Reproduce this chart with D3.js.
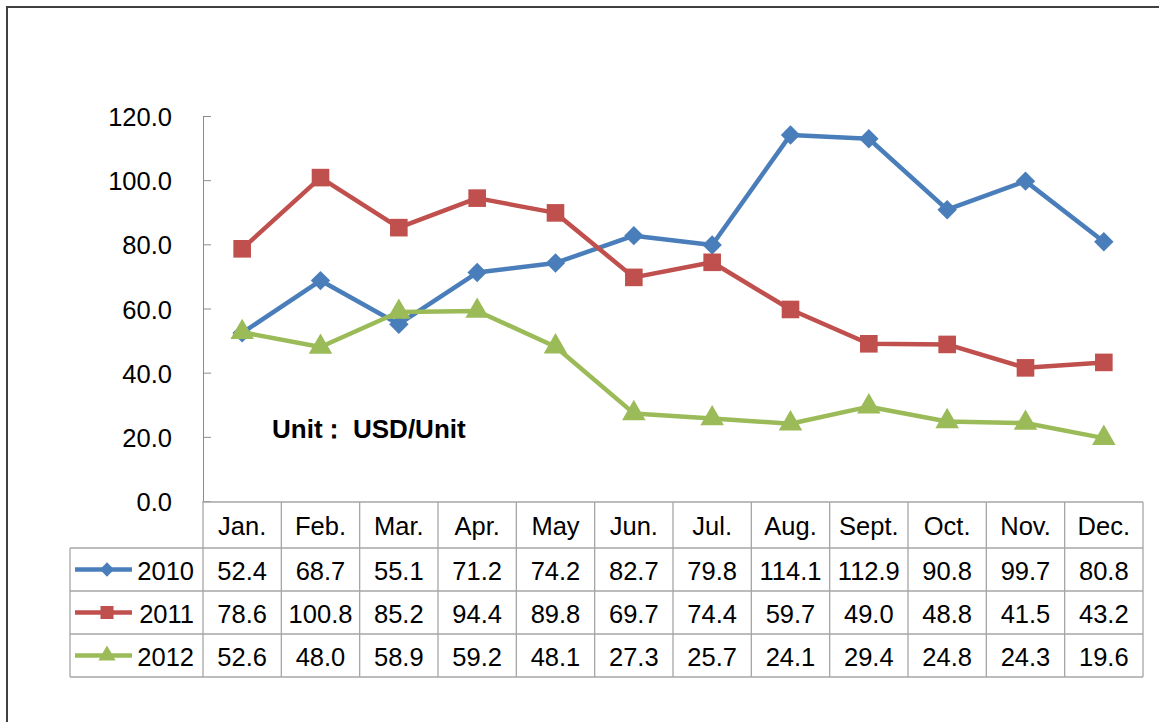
<!DOCTYPE html>
<html lang="en">
    <head>
        <meta charset="UTF-8" />
        <title>USD/Unit 2010-2012</title>
        <script src="https://cdn.jsdelivr.net/npm/d3@7"></script>
        <style>
            body { margin: 0; background: #fff; }
            text { font-family: "Liberation Sans", Arial, sans-serif; fill: #000; }
        </style>
    </head>
    <body>
        <div id="chart"></div>
        <script>
            const months = ["Jan.", "Feb.", "Mar.", "Apr.", "May", "Jun.", "Jul.", "Aug.", "Sept.", "Oct.", "Nov.", "Dec."];
            const years = ["2010", "2011", "2012"];
            const v2010 = [52.4, 68.7, 55.1, 71.2, 74.2, 82.7, 79.8, 114.1, 112.9, 90.8, 99.7, 80.8];
            const v2011 = [78.6, 100.8, 85.2, 94.4, 89.8, 69.7, 74.4, 59.7, 49.0, 48.8, 41.5, 43.2];
            const v2012 = [52.6, 48.0, 58.9, 59.2, 48.1, 27.3, 25.7, 24.1, 29.4, 24.8, 24.3, 19.6];
            const yTicks = [0, 20, 40, 60, 80, 100, 120];

            const series = [
                {name: years[0], values: v2010, color: "#4A7EBB", shape: d3.symbolDiamond2},
                {name: years[1], values: v2011, color: "#C0504D", shape: d3.symbolSquare},
                {name: years[2], values: v2012, color: "#9BBB59", shape: d3.symbolTriangle}
            ];

            const w = 1159, h = 722;
            const plotLeft = 203, plotRight = 1143, plotTop = 116, plotBottom = 501;
            const legendLeft = 70;
            const headerH = 46, rowH = 43;
            const fs = "25.5px";

            const svg = d3.select("#chart").append("svg")
                .attr("width", w)
                .attr("height", h);

            // outer frame
            svg.append("rect")
                .attr("x", 7).attr("y", 7)
                .attr("width", w + 20).attr("height", h + 20)
                .attr("fill", "none")
                .attr("stroke", "#404040")
                .attr("stroke-width", 2);

            const xScale = d3.scaleBand(months, [plotLeft, plotRight]);
            const yScale = d3.scaleLinear([0, 120], [plotBottom, plotTop]);
            const cx = i => xScale(months[i]) + xScale.bandwidth() / 2;

            // y axis, ticks pointing inside
            const yAxis = svg.append("g")
                .attr("transform", "translate(" + plotLeft + ",0)")
                .call(d3.axisRight(yScale).tickValues(yTicks).tickSize(8).tickSizeOuter(0).tickFormat(""));
            yAxis.selectAll("line, path").attr("stroke", "#8c8c8c");

            svg.selectAll(".ylab")
                .data(yTicks)
                .enter()
                .append("text")
                .attr("class", "ylab")
                .attr("x", 172)
                .attr("y", d => yScale(d) + 10)
                .attr("text-anchor", "end")
                .style("font-size", fs)
                .text(d => d3.format(".1f")(d));

            // unit label
            const unit = svg.append("text")
                .attr("y", 438)
                .style("font-size", "26px")
                .style("font-weight", "bold");
            unit.append("tspan").attr("x", 272).text("Unit");
            unit.append("tspan").attr("x", 321).text("：");
            unit.append("tspan").attr("x", 353).text("USD/Unit");

            // lines and markers
            const line = d3.line()
                .x((d, i) => cx(i))
                .y(d => yScale(d));

            series.forEach(s => {
                svg.append("path")
                    .attr("d", line(s.values))
                    .attr("fill", "none")
                    .attr("stroke", s.color)
                    .attr("stroke-width", 4.5)
                    .attr("stroke-linejoin", "round");

                svg.selectAll(".m" + s.name)
                    .data(s.values)
                    .enter()
                    .append("path")
                    .attr("d", d3.symbol(s.shape, s.shape == d3.symbolSquare ? 310 : 240))
                    .attr("transform", (d, i) => "translate(" + cx(i) + "," + yScale(d) + ")")
                    .attr("fill", s.color);
            });

            // data table
            const grid = "#a6a6a6";
            const tableTop = plotBottom + 1;
            const rowTop = i => tableTop + headerH + i * rowH;
            const tableBottom = rowTop(3);

            const table = svg.append("g").attr("stroke", grid).attr("stroke-width", 1.3);
            table.append("line").attr("x1", plotLeft).attr("x2", plotRight).attr("y1", tableTop).attr("y2", tableTop);
            for (let i = 0; i <= 3; i++) {
                table.append("line").attr("x1", legendLeft).attr("x2", plotRight)
                    .attr("y1", rowTop(i)).attr("y2", rowTop(i));
            }
            table.append("line").attr("x1", legendLeft).attr("x2", legendLeft).attr("y1", rowTop(0)).attr("y2", tableBottom);
            table.append("line").attr("x1", plotLeft).attr("x2", plotLeft).attr("y1", plotBottom).attr("y2", tableBottom);
            months.forEach(m => {
                const x = xScale(m) + xScale.bandwidth();
                table.append("line").attr("x1", x).attr("x2", x).attr("y1", tableTop).attr("y2", tableBottom);
            });

            svg.selectAll(".mlab")
                .data(months)
                .enter()
                .append("text")
                .attr("x", (d, i) => cx(i))
                .attr("y", tableTop + 33)
                .attr("text-anchor", "middle")
                .style("font-size", fs)
                .text(d => d);

            series.forEach((s, r) => {
                const cy = rowTop(r) + rowH / 2;
                svg.append("line")
                    .attr("x1", 75).attr("x2", 132)
                    .attr("y1", cy).attr("y2", cy)
                    .attr("stroke", s.color)
                    .attr("stroke-width", 4.5);
                svg.append("path")
                    .attr("d", d3.symbol(s.shape, s.shape == d3.symbolSquare ? 170 : 130))
                    .attr("transform", "translate(107," + cy + ")")
                    .attr("fill", s.color);
                svg.append("text")
                    .attr("x", 194)
                    .attr("y", cy + 10)
                    .attr("text-anchor", "end")
                    .style("font-size", fs)
                    .text(s.name);
                svg.selectAll(".v" + s.name)
                    .data(s.values)
                    .enter()
                    .append("text")
                    .attr("x", (d, i) => cx(i))
                    .attr("y", cy + 10)
                    .attr("text-anchor", "middle")
                    .style("font-size", fs)
                    .text(d => d3.format(".1f")(d));
            });
        </script>
    </body>
</html>
